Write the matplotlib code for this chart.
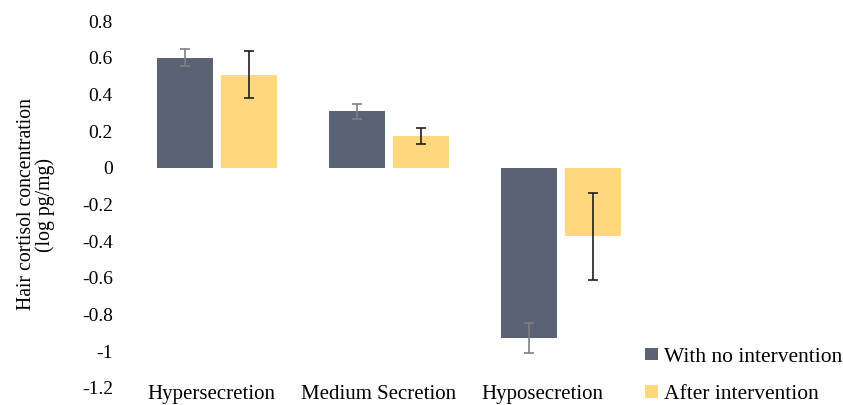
import numpy as np
import matplotlib
matplotlib.use("Agg")
from matplotlib import pyplot as plt

# data
categories = ["Hypersecretion", "Medium Secretion", "Hyposecretion"]
no_intervention = [0.60, 0.307, -0.928]
no_intervention_err = [0.045, 0.042, 0.083]
after_intervention = [0.508, 0.173, -0.373]
after_intervention_err = [0.126, 0.044, 0.238]
series_names = ["With no intervention", "After intervention"]
yticks = [0.8, 0.6, 0.4, 0.2, 0, -0.2, -0.4, -0.6, -0.8, -1, -1.2]

plt.rcParams['font.family'] = ['Liberation Serif', 'DejaVu Serif']

fig = plt.figure(figsize=(8.43, 4.05), dpi=100)
ax = fig.add_axes([131 / 843, 17 / 405, 516 / 843, 367 / 405])

x = np.arange(len(categories))
w = 0.325
gap = 0.047
dark = "#5a6276"
yellow = "#ffd77c"

ax.bar(x - (w + gap) / 2, no_intervention, w, color=dark, label=series_names[0])
ax.bar(x + (w + gap) / 2, after_intervention, w, color=yellow, label=series_names[1])
ax.errorbar(x - (w + gap) / 2, no_intervention, yerr=no_intervention_err, fmt="none",
            ecolor="#808080", elinewidth=1.2, capsize=3.5, capthick=1.2)
ax.errorbar(x + (w + gap) / 2, after_intervention, yerr=after_intervention_err, fmt="none",
            ecolor="#1f1f1f", elinewidth=1.2, capsize=3.5, capthick=1.2)

ax.set_xlim(-0.5, 2.5)
ax.set_ylim(-1.2, 0.8)
ax.set_yticks(yticks)
ax.set_yticklabels([f"{v:g}" for v in yticks], fontsize=14)
ax.set_xticks(x - np.array([0.03, 0.06, 0.11]))
ax.set_xticklabels(categories, fontsize=15)
ax.tick_params(axis="y", length=0, pad=13)
ax.tick_params(axis="x", length=0, pad=-2)
for s in ax.spines.values():
    s.set_visible(False)

ax.set_ylabel("Hair cortisol concentration\n(log pg/mg)", fontsize=14.2, linespacing=0.95)
ax.yaxis.set_label_coords(-0.147, 0.5)

fig.legend(loc="center left", bbox_to_anchor=(645 / 843, 29 / 405), frameon=False,
           fontsize=15.5, handlelength=0.6, handleheight=0.5, handletextpad=0.3,
           labelspacing=0.85, borderpad=0, borderaxespad=0)

fig.savefig("out.png", dpi=100)
